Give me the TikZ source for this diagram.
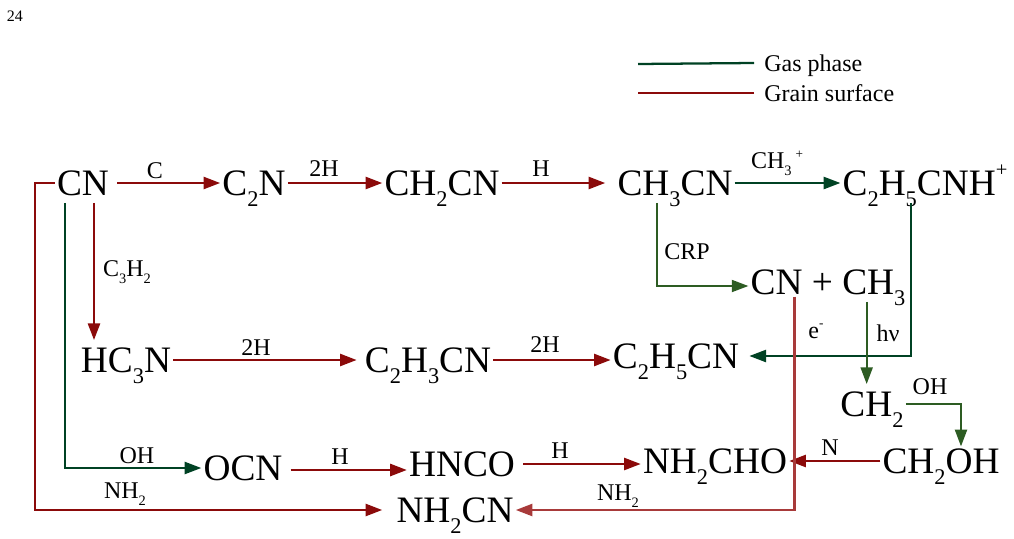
\documentclass[tikz,border=0pt]{standalone}
\usepackage{fontspec}
\setmainfont{Liberation Serif}
\usetikzlibrary{arrows.meta}
\definecolor{grainred}{RGB}{139,10,10}
\definecolor{grainlight}{RGB}{168,58,58}
\definecolor{gasgreen}{RGB}{0,66,36}
\definecolor{gasolive}{RGB}{45,92,35}
\newcommand{\chdn}[1]{\raisebox{-0.3em}{\scalebox{0.6}{#1}}}
\newcommand{\chup}[2][0.5em]{\raisebox{#1}{\scalebox{0.55}{#2}}}
\tikzset{
	mol/.style={font=\fontsize{28}{28}\selectfont, text height=24pt, text depth=5.5pt, inner xsep=1.5pt, inner ysep=0pt},
	lbl/.style={font=\fontsize{18}{18}\selectfont, text height=13pt, text depth=1pt, inner sep=0pt},
	grain/.style={draw=grainred, line width=1.9pt},
	grainpale/.style={draw=grainlight, line width=1.9pt},
	gas/.style={draw=gasgreen, line width=1.7pt},
	gasdim/.style={draw=gasolive, line width=1.5pt},
	arr/.style={-{Triangle[length=12.5pt,width=9pt]}}
}
\begin{document}
\begin{tikzpicture}[x=0.75pt, y=-0.75pt]
	\useasboundingbox (0,0) rectangle (1014,539);
	% Molecules:
	\node[font=\fontsize{12}{12}\selectfont] (pagenum) at (15,16) {24};
	\node[mol] (cn) at (83,183) {CN};
	\node[mol] (c2n) at (254,183) {C\chdn{2}N};
	\node[mol] (ch2cn) at (442,183) {CH\chdn{2}CN};
	\node[mol] (ch3cn) at (675,183) {CH\chdn{3}CN};
	\node[mol] (c2h5cnh) at (925,183) {C\chdn{2}H\chdn{5}CNH\chup{+}};
	\node[mol] (cnch3) at (828,282) {CN + CH\chdn{3}};
	\node[mol] (hc3n) at (126,360) {HC\chdn{3}N};
	\node[mol] (c2h3cn) at (428,360) {C\chdn{2}H\chdn{3}CN};
	\node[mol] (c2h5cn) at (676,356) {C\chdn{2}H\chdn{5}CN};
	\node[mol] (ch2) at (872,404) {CH\chdn{2}};
	\node[mol] (ocn) at (243,468) {OCN};
	\node[mol] (hnco) at (462,464) {HNCO};
	\node[mol] (nh2cho) at (715,461) {NH\chdn{2}CHO};
	\node[mol] (ch2oh) at (941,461) {CH\chdn{2}OH};
	\node[mol] (nh2cn) at (455,510) {NH\chdn{2}CN};

	% Reactants on the arrows:
	\node[lbl] (lc) at (155,170) {C};
	\node[lbl] (l2ha) at (324,168) {2H};
	\node[lbl] (lha) at (541,168) {H};
	\node[lbl] (lch3p) at (777,160) {CH\chdn{3}\,\chup[0.4em]{+}};
	\node[lbl] (lc3h2) at (127,268) {C\chdn{3}H\chdn{2}};
	\node[lbl] (lcrp) at (687,251) {CRP};
	\node[lbl] (lel) at (816,330) {e\chup[0.45em]{-}};
	\node[lbl] (lhnu) at (888,333) {hν};
	\node[lbl] (l2hb) at (256,347) {2H};
	\node[lbl] (l2hc) at (545,344) {2H};
	\node[lbl] (loha) at (930,386) {OH};
	\node[lbl] (lohb) at (137,455) {OH};
	\node[lbl] (lnh2a) at (125,490) {NH\chdn{2}};
	\node[lbl] (lhb) at (340,456) {H};
	\node[lbl] (lhc) at (560,450) {H};
	\node[lbl] (ln) at (830,447) {N};
	\node[lbl] (lnh2b) at (618,492) {NH\chdn{2}};

	% Legend:
	\node[lbl, anchor=west] (lgas) at (764,63) {Gas phase};
	\node[lbl, anchor=west] (lgrain) at (764,93) {Grain surface};
	\draw[gas] ([xshift=-7.5pt]lgas.west) -- ++(-116,1);
	\draw[grain] ([xshift=-7.5pt]lgrain.west) -- ++(-116,0);

	% Reaction arrows:
	\draw[grain, arr] (cn.east) ++(6,0) -- (c2n.west);
	\draw[grain, arr] (c2n.east) -- (ch2cn.west);
	\draw[grain, arr] (ch2cn.east) -- ([xshift=-7.5pt]ch3cn.west);
	\draw[gas, arr] (ch3cn.east) -- (c2h5cnh.west);
	\draw[grain, arr] ([xshift=8.25pt]cn.south) -- ([xshift=8.25pt]cn.south |- hc3n.north);
	\draw[gas, arr] ([xshift=-13.5pt]cn.south) |- (ocn.west);
	\draw[grain, arr] (cn.west) -- ++(-20,0) |- ([xshift=-9pt]nh2cn.west);
	\draw[grain, arr] (hc3n.east) -- ([xshift=-4.5pt]c2h3cn.west);
	\draw[grain, arr] (c2h3cn.east) -- (c2h3cn.east -| c2h5cn.west);
	\draw[gasdim, arr] ([xshift=-13.5pt]ch3cn.south) |- ([yshift=-3pt]cnch3.west);
	\draw[gas, arr] ([xshift=-10.5pt]c2h5cnh.south) |- ([xshift=6pt]c2h5cn.east);
	\draw[gasdim, arr] ([xshift=29pt]cnch3.south) -- ([xshift=29pt]cnch3.south |- ch2.north);
	\draw[gasdim, arr] (ch2.east) -| ([xshift=15pt,yshift=-4pt]ch2oh.north);
	\draw[grain, arr] (ch2oh.west) -- (nh2cho.east);
	\draw[grain, arr] ([xshift=4.5pt,yshift=-1.5pt]ocn.east) -- ([yshift=-1.5pt]ocn.east -| hnco.west);
	\draw[grain, arr] ([xshift=4.5pt]hnco.east) -- (hnco.east -| nh2cho.west);
	\draw[grainpale, arr] ([xshift=-25pt,yshift=4pt]cnch3.south) |- (nh2cn.east);
\end{tikzpicture}
\end{document}
